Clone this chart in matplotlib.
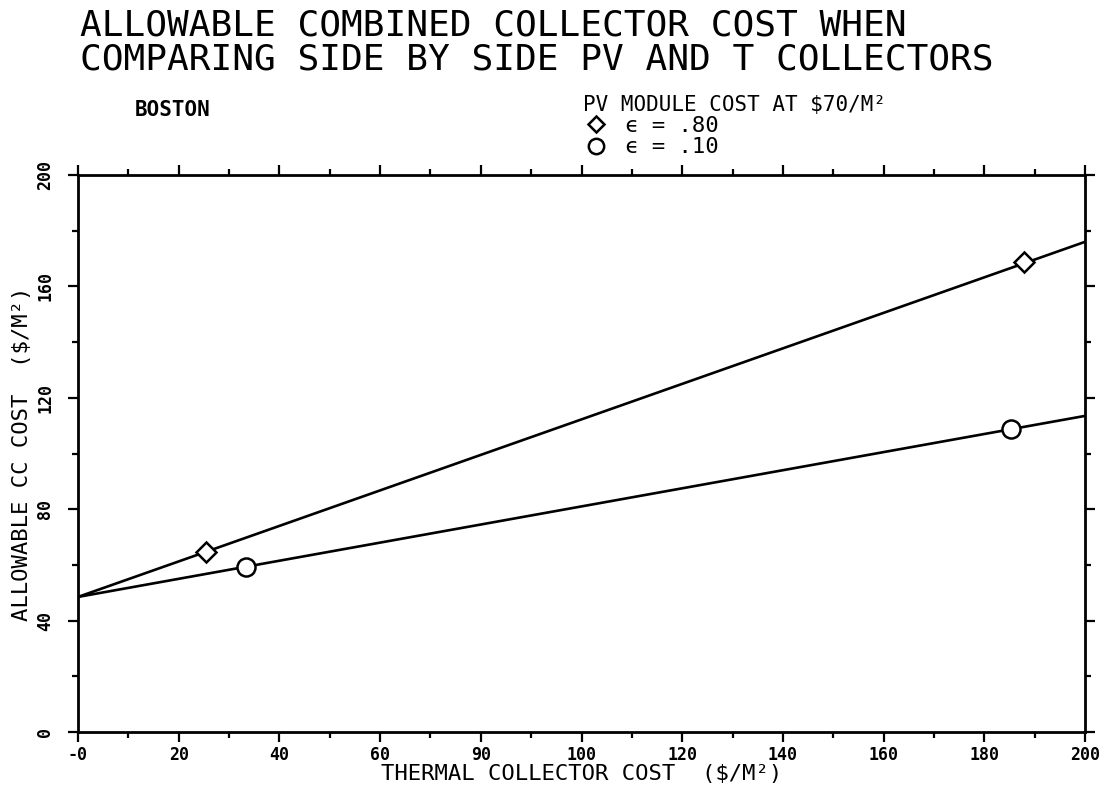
import numpy as np
import matplotlib
matplotlib.use("Agg")
import matplotlib.pyplot as plt

# line end points (x = 0 and x = 200)
x_ends = [0, 200]
cc_eps80 = [48.5, 176.0]
cc_eps10 = [48.5, 113.5]

# marker positions on each line
mark_x80 = [25.4, 187.9]
mark_y80 = [64.7, 168.8]
mark_x10 = [33.4, 185.3]
mark_y10 = [59.3, 108.8]

xticks = [0, 20, 40, 60, 80, 100, 120, 140, 160, 180, 200]
xtick_labels = ["-0", "20", "40", "60", "90", "100", "120", "140", "160", "180", "200"]
yticks = [0, 40, 80, 120, 160, 200]
ytick_labels = ["0", "40", "80", "120", "160", "200"]

FONT = ["DejaVu Sans Mono", "DejaVu Sans"]
plt.rcParams["font.family"] = FONT

fig = plt.figure(figsize=(11.04, 7.92), dpi=100)
ax = fig.add_axes([78 / 1104, 60 / 792, 1007 / 1104, 557 / 792])

ax.plot(x_ends, cc_eps80, color="black", linewidth=1.9, zorder=2)
ax.plot(x_ends, cc_eps10, color="black", linewidth=1.9, zorder=2)
ax.plot(mark_x80, mark_y80, linestyle="none", marker="D", markersize=10,
        markerfacecolor="white", markeredgecolor="black", markeredgewidth=1.8,
        label="\u03f5 = .80", zorder=3)
ax.plot(mark_x10, mark_y10, linestyle="none", marker="o", markersize=13,
        markerfacecolor="white", markeredgecolor="black", markeredgewidth=1.8,
        label="\u03f5 = .10", zorder=3)

ax.set_xlim(0, 200)
ax.set_ylim(0, 200)
ax.set_xticks(xticks)
ax.set_xticklabels(xtick_labels, fontsize=12, fontweight="bold")
ax.set_xticks(np.arange(10, 200, 20), minor=True)
ax.set_yticks(yticks)
ax.set_yticklabels(ytick_labels, fontsize=12, fontweight="bold",
                   rotation=90, va="center")
ax.set_yticks(np.arange(20, 200, 40), minor=True)
ax.tick_params(which="both", direction="out", top=True, right=True,
               width=1.6, color="black")
ax.tick_params(which="major", length=7, pad=3)
ax.tick_params(which="minor", length=4)
ax.tick_params(axis="y", pad=10)
for s in ax.spines.values():
    s.set_linewidth(2.0)

ax.set_xlabel("THERMAL COLLECTOR COST  (\\$/M\u00b2)", fontsize=16, labelpad=0)
ax.set_ylabel("ALLOWABLE CC COST  (\\$/M\u00b2)", fontsize=16, labelpad=3)

fig.text(80 / 1104, 1 - 8 / 792,
         "ALLOWABLE COMBINED COLLECTOR COST WHEN\n"
         "COMPARING SIDE BY SIDE PV AND T COLLECTORS",
         fontsize=26, ha="left", va="top", linespacing=1.0)
fig.text(135 / 1104, 1 - 110 / 792, "BOSTON", fontsize=15,
         fontweight="bold", ha="left", va="center")

leg = fig.legend(loc="upper left", bbox_to_anchor=(572 / 1104, 1 - 84 / 792),
                 title="PV MODULE COST AT \\$70/M\u00b2", alignment="left",
                 frameon=False, fontsize=16, title_fontsize=15,
                 handletextpad=0.7, labelspacing=0.05, borderpad=0,
                 handlelength=1.2, markerscale=0.85)

fig.savefig("out.png", dpi=100)
